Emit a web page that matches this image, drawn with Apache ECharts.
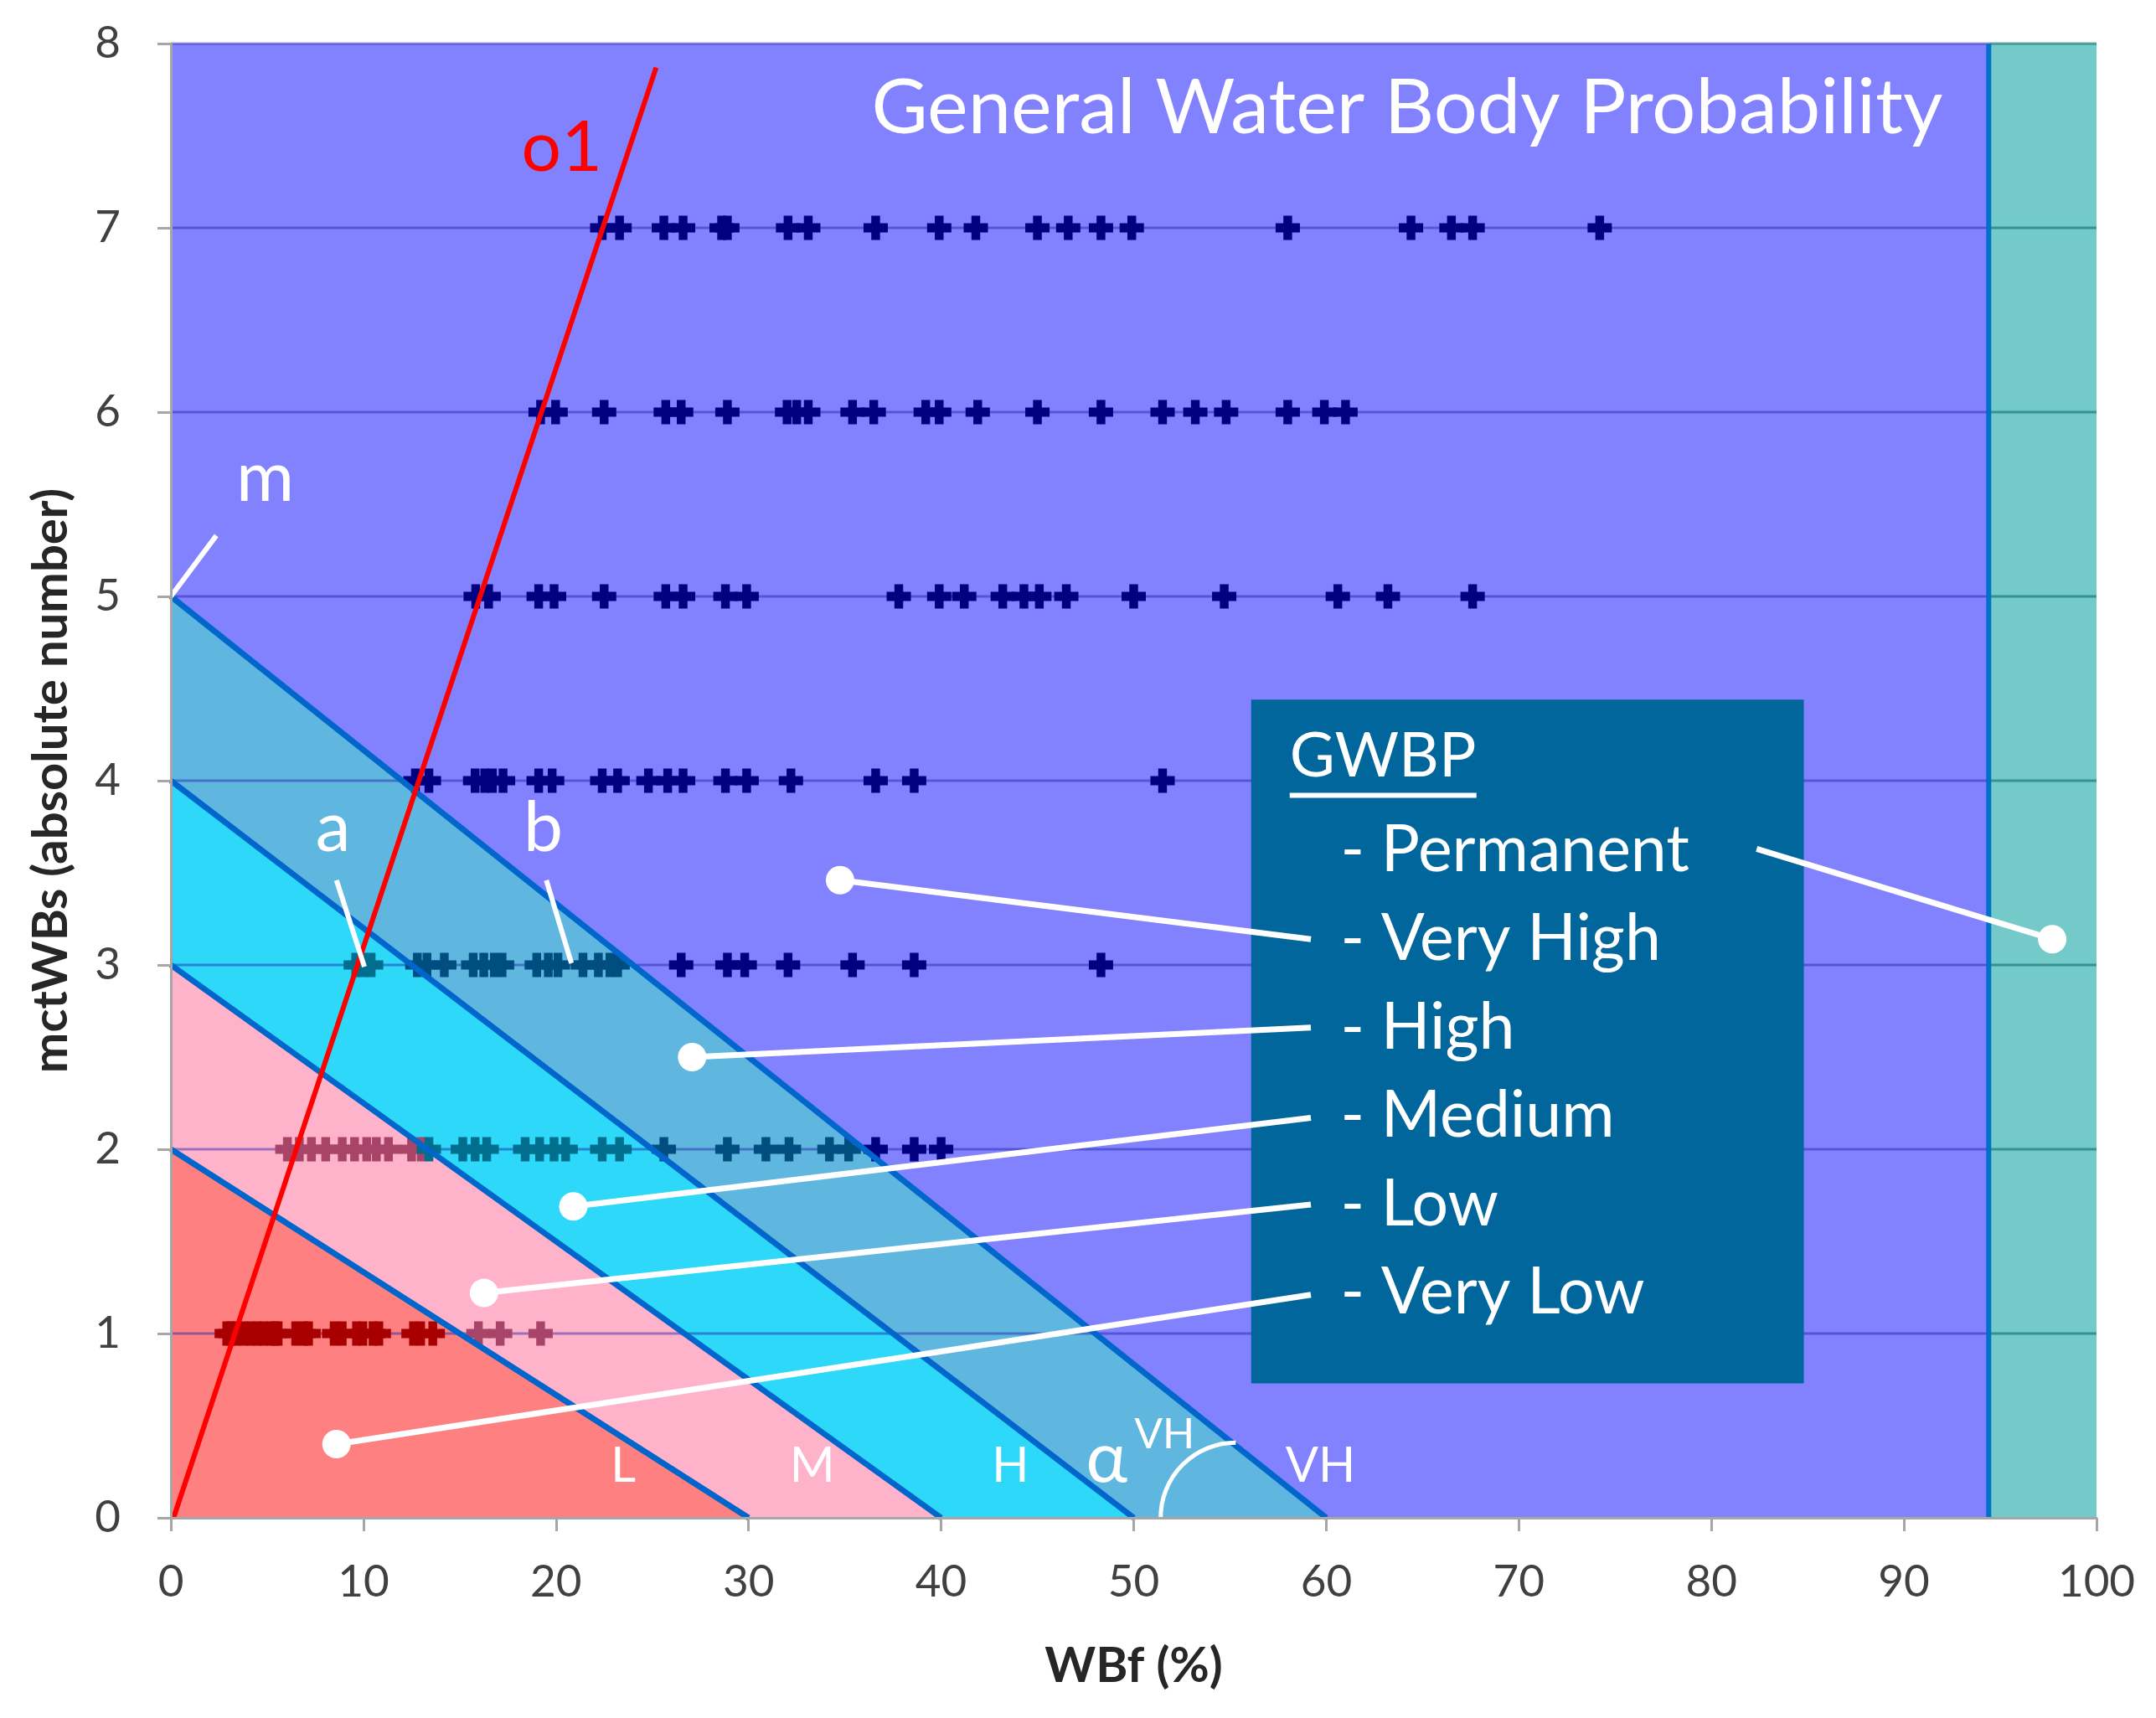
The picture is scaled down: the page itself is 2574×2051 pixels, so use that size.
<!DOCTYPE html>
<html><head><meta charset="utf-8">
<script src="https://cdn.jsdelivr.net/npm/echarts@6/dist/echarts.min.js"></script>
<style>html,body{margin:0;padding:0;background:#fff}#c{width:2574px;height:2051px}</style>
</head><body><div id="c"></div><script>
// ---------- data ----------
const xTickInterval = 10;
const yTickInterval = 1;
const gridYValues = [1, 2, 3, 4, 5, 6, 7, 8];

const wbfAt1 = [2.9,3.1,3.4,3.8,4.15,4.5,4.8,5.15,5.4,5.57,6.48,6.9,7.15,8.48,8.9,9.64,9.97,10.5,10.8,12.6,12.97,13.6,15.97,17.1,19.2];
const wbfAt2 = [6.05,6.67,7.3,8.04,8.9,9.54,10.17,10.67,11.3,12.5,13.0,13.4,15.16,15.8,16.4,18.4,19.15,19.9,20.5,22.4,23.3,25.6,28.9,30.9,32.1,34.2,35.2,36.6,38.6,40.0];
const wbfAt3 = [9.6,10.0,10.4,12.8,13.3,14.2,15.7,16.25,16.8,17.2,19.0,19.6,20.1,21.4,22.2,22.8,23.2,26.5,28.9,29.8,32.05,35.4,38.6,48.3];
const wbfAt4 = [12.7,13.4,15.8,16.3,16.7,17.25,19.1,19.8,22.4,23.2,24.8,25.8,26.6,28.8,29.9,32.2,36.6,38.6,51.5];
const wbfAt5 = [15.83,16.5,19.1,19.9,22.5,25.7,26.6,28.8,29.9,37.8,39.9,41.2,43.2,44.3,45.1,46.5,50.0,54.7,60.6,63.2,67.6];
const wbfAt6 = [19.2,19.98,22.5,25.7,26.5,28.9,32.0,32.5,33.1,35.4,36.5,39.2,39.9,41.9,45.0,48.3,51.5,53.2,54.8,58.0,59.9,61.0];
const wbfAt7 = [22.4,23.3,25.6,26.6,28.6,28.9,32.05,33.1,36.6,39.9,41.8,45.0,46.6,48.3,49.9,58.0,64.4,66.5,67.6,74.2];
const rowValues = [1, 2, 3, 4, 5, 6, 7];

// class boundaries: line from (0, yIntercept) to (xIntercept, 0)
const zoneYIntercepts = [2, 3, 4, 5];
const zoneXIntercepts = [30, 40, 50, 60];
const permanentFrom = 94.4;

// line o1
const o1Line = [[0.14, 0], [25.2, 7.87]];

// legend box corners
const legendBox = [[56.1, 0.73], [84.8, 4.44]];
const legendTitle = 'GWBP';
const legendItems = ['- Permanent', '- Very High', '- High', '- Medium', '- Low', '- Very Low'];
const legendItemY = [3.62, 3.14, 2.66, 2.18, 1.70, 1.22];

// white pointer lines (from legend -> dot in zone)
const pointerFrom = [[82.35, 3.63], [59.2, 3.14], [59.2, 2.66], [59.2, 2.17], [59.2, 1.70], [59.2, 1.21]];
const pointerTo = [[97.7, 3.14], [34.75, 3.46], [27.07, 2.50], [20.9, 1.69], [16.26, 1.22], [8.6, 0.40]];

// annotation ticks (white short lines)
const annoLines = [
  [[0, 5], [2.36, 5.33]],
  [[8.6, 3.46], [10.05, 2.99]],
  [[19.5, 3.46], [20.8, 3.01]]
];
const gwbpUnderline = [[58.1, 3.92], [67.8, 3.92]];

// ---------- styles ----------
const FONT = 'Lato, "Open Sans", "Noto Sans", sans-serif';
const zoneColors = ['#FF8080', '#FFB3CB', '#2DD8F8', '#5FB7E0'];
const pointColors = ['#A80000', '#A84468', '#006E8C', '#004E80', '#000080'];
const purple = '#8282FF';
const teal = '#74CAC8';
const boundaryColor = '#0066CC';

function zoneIndex(x, y) {
  for (let i = 0; i < zoneYIntercepts.length; i++) {
    if (y < zoneYIntercepts[i] * (1 - x / zoneXIntercepts[i])) return i;
  }
  return zoneYIntercepts.length;
}

// region polygons
const polys = [];
polys.push({ pts: [[0, 0], [permanentFrom, 0], [permanentFrom, 8], [0, 8]], color: purple });
polys.push({ pts: [[permanentFrom, 0], [100, 0], [100, 8], [permanentFrom, 8]], color: teal });
polys.push({ pts: [[0, 0], [zoneXIntercepts[0], 0], [0, zoneYIntercepts[0]]], color: zoneColors[0] });
for (let i = 1; i < zoneYIntercepts.length; i++) {
  polys.push({
    pts: [[0, zoneYIntercepts[i - 1]], [zoneXIntercepts[i - 1], 0], [zoneXIntercepts[i], 0], [0, zoneYIntercepts[i]]],
    color: zoneColors[i]
  });
}

const rows = [wbfAt1, wbfAt2, wbfAt3, wbfAt4, wbfAt5, wbfAt6, wbfAt7];
const scatterData = [];
rows.forEach((arr, r) => arr.forEach(x => scatterData.push([x, rowValues[r]])));

const series = [];
series.push({
  type: 'custom', name: 'zones', z: 1, silent: true,
  data: polys.map((p, i) => [i, 0]),
  renderItem: (params, api) => {
    const p = polys[params.dataIndex];
    return { type: 'polygon', shape: { points: p.pts.map(pt => api.coord(pt)) }, style: { fill: p.color } };
  }
});
series.push({
  type: 'custom', name: 'grid', z: 2, silent: true,
  data: gridYValues.map(y => [0, y]),
  renderItem: (params, api) => {
    const y = api.value(1);
    const a = api.coord([0, y]), b = api.coord([permanentFrom, y]), c = api.coord([100, y]);
    return { type: 'group', children: [
      { type: 'line', shape: { x1: a[0], y1: a[1], x2: b[0], y2: b[1] }, style: { stroke: 'rgba(30,30,170,0.45)', lineWidth: 3 } },
      { type: 'line', shape: { x1: b[0], y1: b[1], x2: c[0], y2: c[1] }, style: { stroke: 'rgba(10,110,110,0.6)', lineWidth: 3 } }
    ] };
  }
});
series.push({
  type: 'scatter', name: 'WBs', z: 3, silent: true,
  symbol: 'path://M32,0H68V31H100V69H68V100H32V69H0V31H32Z',
  symbolSize: [29, 29],
  data: scatterData,
  itemStyle: { color: (p) => pointColors[zoneIndex(p.value[0], p.value[1])], opacity: 1 }
});
zoneYIntercepts.forEach((b, i) => {
  series.push({
    type: 'line', z: 4, silent: true, symbol: 'none',
    data: [[0, b], [zoneXIntercepts[i], 0]],
    lineStyle: { color: boundaryColor, width: 7 }
  });
});
series.push({
  type: 'line', z: 4, silent: true, symbol: 'none',
  data: [[permanentFrom, 0], [permanentFrom, 8]],
  lineStyle: { color: '#0070C8', width: 6 }
});
series.push({
  type: 'line', z: 5, silent: true, symbol: 'none',
  data: o1Line, lineStyle: { color: '#FF0000', width: 6 }
});
series.push({
  type: 'custom', name: 'legendBox', z: 6, silent: true,
  data: [[0, 0]],
  renderItem: (params, api) => {
    const a = api.coord(legendBox[0]), b = api.coord(legendBox[1]);
    return { type: 'rect', shape: { x: a[0], y: b[1], width: b[0] - a[0], height: a[1] - b[1] }, style: { fill: '#00669B' } };
  }
});
pointerFrom.forEach((f, i) => {
  series.push({
    type: 'line', z: 7, silent: true,
    data: [{ value: f, symbol: 'none' }, { value: pointerTo[i], symbol: 'circle', symbolSize: 34 }],
    lineStyle: { color: '#FFFFFF', width: 7 },
    itemStyle: { color: '#FFFFFF', opacity: 1 }
  });
});
annoLines.concat([gwbpUnderline]).forEach(seg => {
  series.push({
    type: 'line', z: 7, silent: true, symbol: 'none',
    data: seg, lineStyle: { color: '#FFFFFF', width: 6 }
  });
});
series.push({
  type: 'custom', name: 'arc', z: 7, silent: true,
  data: [[55.3, 0]],
  renderItem: (params, api) => {
    const c = api.coord([55.3, 0]);
    const s = api.coord([51.4, 0]);
    const r = c[0] - s[0];
    return { type: 'arc', shape: { cx: c[0], cy: c[1], r: r, startAngle: Math.PI, endAngle: Math.PI * 1.5, clockwise: true },
      style: { stroke: '#FFFFFF', fill: null, lineWidth: 5 } };
  }
});

// text annotations
function txt(x, y, text, size, color, align, weight) {
  return {
    value: [x, y],
    label: { show: true, position: 'inside', formatter: text, fontSize: size, color: color || '#FFFFFF', opacity: 1,
      align: align || 'center', verticalAlign: 'middle', fontFamily: FONT, fontWeight: weight || 'normal' }
  };
}
const labelData = [
  txt(64.2, 7.65, 'General Water Body Probability', 92),
  txt(20.3, 7.43, 'o1', 84, '#FF0000'),
  txt(4.9, 5.64, 'm', 84),
  txt(8.42, 3.74, 'a', 84),
  txt(19.34, 3.74, 'b', 84),
  txt(23.5, 0.28, 'L', 58),
  txt(33.3, 0.28, 'M', 58),
  txt(43.6, 0.28, 'H', 58),
  txt(48.6, 0.32, 'α', 84),
  txt(51.6, 0.45, 'VH', 50),
  txt(59.7, 0.28, 'VH', 58),
  txt(58.1, 4.13, legendTitle, 74, '#FFFFFF', 'left')
];
legendItems.forEach((t, i) => labelData.push(txt(60.74, legendItemY[i], t, 77, '#FFFFFF', 'left')));
series.push({
  type: 'scatter', name: 'labels', z: 9, silent: true,
  symbolSize: 1, itemStyle: { color: 'rgba(0,0,0,0)', opacity: 1 },
  data: labelData
});

const option = {
  animation: false,
  backgroundColor: '#FFFFFF',
  textStyle: { fontFamily: FONT },
  grid: { left: 204, right: 71, top: 52, bottom: 239, containLabel: false },
  xAxis: {
    type: 'value', min: 0, max: 100, interval: xTickInterval, z: 10,
    name: 'WBf (%)', nameLocation: 'middle', nameGap: 148,
    nameTextStyle: { fontSize: 58, fontWeight: 'bold', color: '#262626', fontFamily: FONT },
    axisLine: { show: true, lineStyle: { color: '#A6A6A6', width: 3 } },
    axisTick: { show: true, length: 16, lineStyle: { color: '#A6A6A6', width: 3 } },
    axisLabel: { fontSize: 53, color: '#404040', margin: 50, fontFamily: FONT },
    splitLine: { show: false }
  },
  yAxis: {
    type: 'value', min: 0, max: 8, interval: yTickInterval, z: 10,
    name: 'mctWBs (absolute number)', nameLocation: 'middle', nameGap: 114, nameRotate: 90,
    nameTextStyle: { fontSize: 58, fontWeight: 'bold', color: '#262626', fontFamily: FONT },
    axisLine: { show: true, lineStyle: { color: '#A6A6A6', width: 3 } },
    axisTick: { show: true, length: 16, lineStyle: { color: '#A6A6A6', width: 3 } },
    axisLabel: { fontSize: 53, color: '#404040', margin: 60, fontFamily: FONT },
    splitLine: { show: false }
  },
  series: series
};
const chart = echarts.init(document.getElementById('c'), null, { renderer: 'canvas', width: 2574, height: 2051 });
chart.setOption(option);
</script></body></html>
